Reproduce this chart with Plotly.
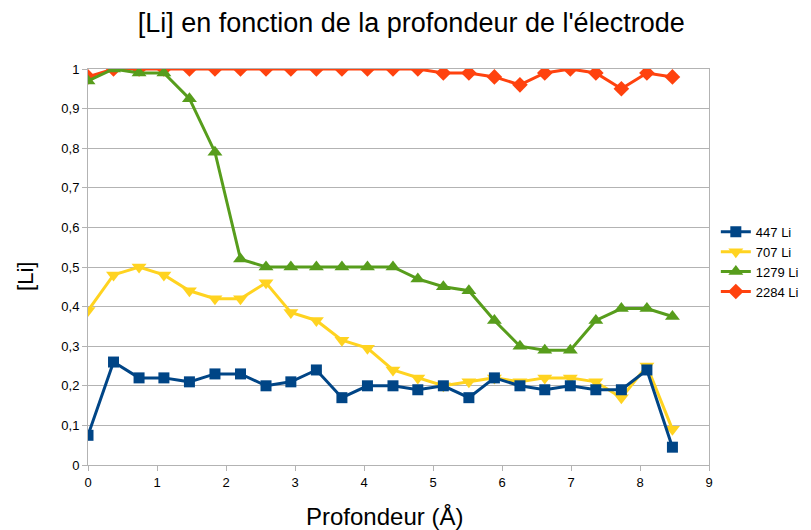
import plotly.graph_objects as go

# Depth of each measurement (Å)
profondeur = [0, 0.37, 0.74, 1.10, 1.47, 1.84, 2.21, 2.58, 2.94, 3.31, 3.68, 4.05,
              4.42, 4.78, 5.15, 5.52, 5.89, 6.26, 6.62, 6.99, 7.36, 7.73, 8.10, 8.47]

li_447 = [0.075, 0.26, 0.22, 0.22, 0.21, 0.23, 0.23, 0.20, 0.21, 0.24, 0.17, 0.20,
          0.20, 0.19, 0.20, 0.17, 0.22, 0.20, 0.19, 0.20, 0.19, 0.19, 0.24, 0.045]
li_707 = [0.39, 0.48, 0.50, 0.48, 0.44, 0.42, 0.42, 0.46, 0.385, 0.365, 0.315, 0.295,
          0.24, 0.22, 0.20, 0.21, 0.22, 0.21, 0.22, 0.22, 0.21, 0.17, 0.25, 0.09]
li_1279 = [0.97, 1.0, 0.99, 0.99, 0.925, 0.79, 0.52, 0.50, 0.50, 0.50, 0.50, 0.50,
           0.50, 0.47, 0.45, 0.44, 0.365, 0.30, 0.29, 0.29, 0.365, 0.395, 0.395, 0.375]
li_2284 = [0.98, 1.0, 1.0, 1.0, 1.0, 1.0, 1.0, 1.0, 1.0, 1.0, 1.0, 1.0,
           1.0, 1.0, 0.99, 0.99, 0.98, 0.96, 0.99, 1.0, 0.99, 0.95, 0.99, 0.98]

series = [
    ("447 Li", li_447, "#004586", "square", 11),
    ("707 Li", li_707, "#ffd320", "triangle-down", 13),
    ("1279 Li", li_1279, "#579d1c", "triangle-up", 13),
    ("2284 Li", li_2284, "#ff420e", "diamond", 12),
]

fig = go.Figure()
# Added last-to-first so the first series sits on top
for name, vals, color, symbol, size in reversed(series):
    fig.add_trace(go.Scatter(
        x=profondeur, y=vals, name=name, mode="lines+markers",
        line=dict(color=color, width=3),
        marker=dict(symbol=symbol, size=size, color=color),
    ))

font = "Liberation Sans, Arial, sans-serif"
fig.update_layout(
    width=811, height=530,
    paper_bgcolor="white", plot_bgcolor="white",
    separators=", ",
    margin=dict(l=88, r=102, t=69, b=65, autoexpand=False),
    font=dict(family=font, color="black", size=13),
    title=dict(text="[Li] en fonction de la profondeur de l'électrode",
               x=0.507, xanchor="center", y=0.958, yanchor="middle",
               font=dict(size=27, family=font)),
    legend=dict(traceorder="reversed", x=1.011, xanchor="left", y=0.513, yanchor="middle",
                font=dict(size=13), itemwidth=30, tracegroupgap=0),
    showlegend=True,
    annotations=[
        dict(text="Profondeur (Å)", xref="paper", yref="paper", x=0.478, y=-0.129,
             xanchor="center", yanchor="middle", showarrow=False, font=dict(size=24)),
        dict(text="[Li]", xref="paper", yref="paper", x=-0.0998, y=0.475,
             xanchor="center", yanchor="middle", showarrow=False, textangle=-90,
             font=dict(size=22)),
    ],
)
fig.update_xaxes(
    range=[0, 9], dtick=1, showgrid=False, zeroline=False,
    showline=True, linecolor="#b3b3b3", linewidth=1, mirror=True,
    ticks="outside", ticklen=5, tickcolor="#b3b3b3",
    tickfont=dict(size=13),
)
fig.update_yaxes(
    range=[0, 1], dtick=0.1, showgrid=True, gridcolor="#b3b3b3", zeroline=False,
    showline=True, linecolor="#b3b3b3", linewidth=1, mirror=True,
    ticks="outside", ticklen=5, tickcolor="#b3b3b3",
    tickfont=dict(size=13),
)

fig.write_html("out.html")
